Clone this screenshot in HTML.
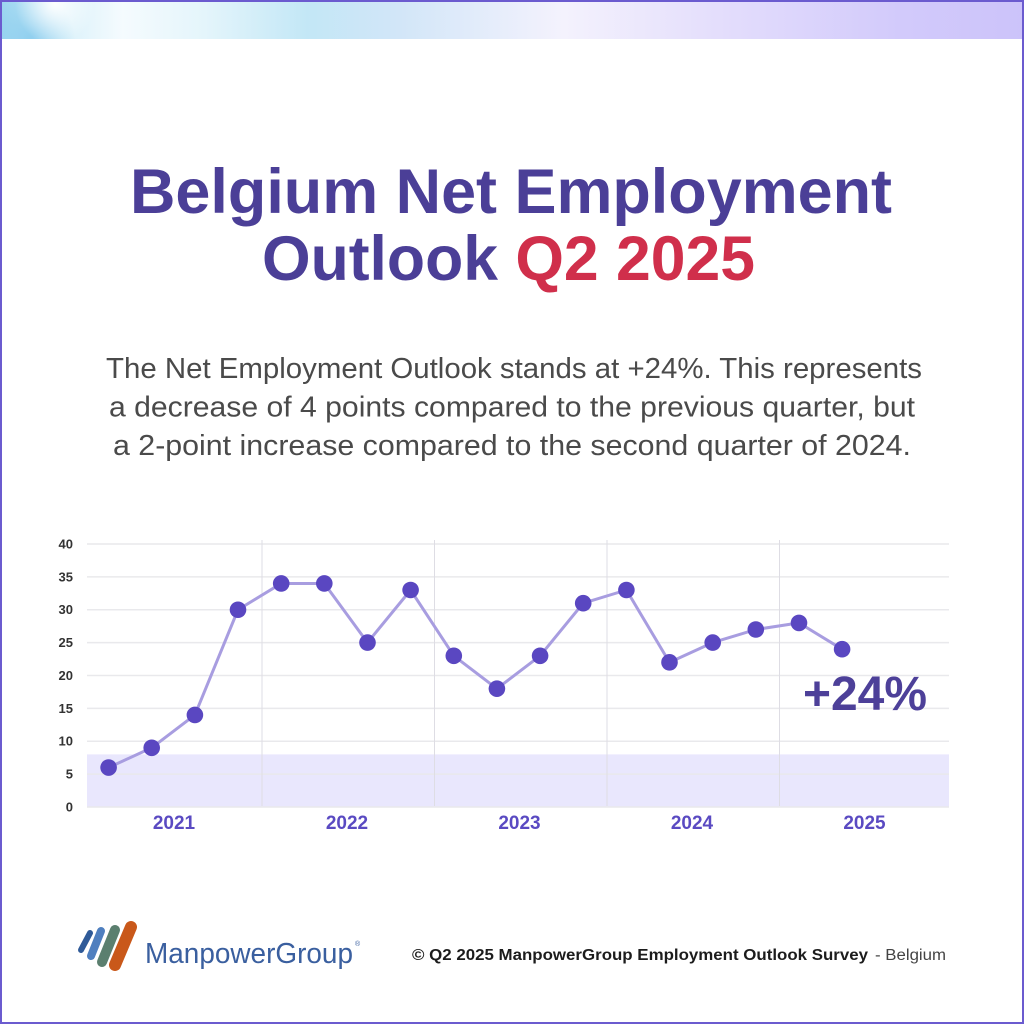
<!DOCTYPE html>
<html>
<head>
<meta charset="utf-8">
<style>
html,body{margin:0;padding:0;background:#fff;}
svg{display:block;}
text{font-family:"Liberation Sans",Arial,sans-serif;}
</style>
</head>
<body>
<svg width="1024" height="1024" viewBox="0 0 1024 1024" xmlns="http://www.w3.org/2000/svg">
  <defs>
    <linearGradient id="hdr" x1="0" y1="0" x2="1" y2="0">
      <stop offset="0" stop-color="#9ad5f0"/>
      <stop offset="0.06" stop-color="#d9f1fa"/>
      <stop offset="0.12" stop-color="#f5fbfe"/>
      <stop offset="0.2" stop-color="#e4f5fb"/>
      <stop offset="0.3" stop-color="#c3e7f6"/>
      <stop offset="0.39" stop-color="#d2e6f8"/>
      <stop offset="0.55" stop-color="#f4f2fd"/>
      <stop offset="0.7" stop-color="#e4defc"/>
      <stop offset="0.88" stop-color="#d2cafb"/>
      <stop offset="1" stop-color="#ccc3fa"/>
    </linearGradient>
    <radialGradient id="spot" cx="55" cy="4" r="40" gradientUnits="userSpaceOnUse">
      <stop offset="0" stop-color="#ffffff" stop-opacity="0.95"/>
      <stop offset="1" stop-color="#ffffff" stop-opacity="0"/>
    </radialGradient>
    <radialGradient id="bluespot" cx="30" cy="38" r="45" gradientUnits="userSpaceOnUse">
      <stop offset="0" stop-color="#8ccdee" stop-opacity="0.9"/>
      <stop offset="1" stop-color="#8ccdee" stop-opacity="0"/>
    </radialGradient>
  </defs>

  <!-- header band -->
  <rect x="0" y="0" width="1024" height="39" fill="url(#hdr)"/>
  <rect x="0" y="0" width="140" height="39" fill="url(#bluespot)"/>
  <rect x="0" y="0" width="140" height="39" fill="url(#spot)"/>

  <!-- title -->
  <text x="511" y="213" text-anchor="middle" font-size="63" font-weight="bold" fill="#4b3f97" textLength="762" lengthAdjust="spacingAndGlyphs">Belgium Net Employment</text>
  <text x="508.5" y="280" text-anchor="middle" font-size="63" font-weight="bold" fill="#4b3f97" textLength="493" lengthAdjust="spacingAndGlyphs">Outlook <tspan fill="#d02f4b">Q2 2025</tspan></text>

  <!-- paragraph -->
  <g font-size="28.5" fill="#4a4a4a" text-anchor="middle">
    <text x="514" y="378" textLength="816" lengthAdjust="spacingAndGlyphs">The Net Employment Outlook stands at +24%. This represents</text>
    <text x="512" y="416.5" textLength="806" lengthAdjust="spacingAndGlyphs">a decrease of 4 points compared to the previous quarter, but</text>
    <text x="512" y="455" textLength="798" lengthAdjust="spacingAndGlyphs">a 2-point increase compared to the second quarter of 2024.</text>
  </g>

  <!-- chart -->
  <rect x="87" y="754.4" width="862" height="52.6" fill="#e9e7fd"/>
  <g stroke="#e9e9ec" stroke-width="1.5">
    <line x1="87" y1="807" x2="949" y2="807"/>
    <line x1="87" y1="774.1" x2="949" y2="774.1"/>
    <line x1="87" y1="741.25" x2="949" y2="741.25"/>
    <line x1="87" y1="708.4" x2="949" y2="708.4"/>
    <line x1="87" y1="675.5" x2="949" y2="675.5"/>
    <line x1="87" y1="642.6" x2="949" y2="642.6"/>
    <line x1="87" y1="609.75" x2="949" y2="609.75"/>
    <line x1="87" y1="576.9" x2="949" y2="576.9"/>
    <line x1="87" y1="544" x2="949" y2="544"/>
  </g>
  <g stroke="#dedde4" stroke-width="1">
    <line x1="262" y1="540" x2="262" y2="806"/>
    <line x1="434.5" y1="540" x2="434.5" y2="806"/>
    <line x1="607" y1="540" x2="607" y2="806"/>
    <line x1="779.5" y1="540" x2="779.5" y2="806"/>
  </g>

  <g font-size="13" font-weight="bold" fill="#333" text-anchor="end">
    <text x="73" y="811.5">0</text>
    <text x="73" y="778.6">5</text>
    <text x="73" y="745.7">10</text>
    <text x="73" y="712.9">15</text>
    <text x="73" y="680">20</text>
    <text x="73" y="647.1">25</text>
    <text x="73" y="614.2">30</text>
    <text x="73" y="581.4">35</text>
    <text x="73" y="548.5">40</text>
  </g>

  <g font-size="19" font-weight="bold" fill="#5a4ac2" text-anchor="middle">
    <text x="174" y="829">2021</text>
    <text x="347" y="829">2022</text>
    <text x="519.5" y="829">2023</text>
    <text x="692" y="829">2024</text>
    <text x="864.5" y="829">2025</text>
  </g>

  <polyline fill="none" stroke="#a89de0" stroke-width="3" stroke-linejoin="round"
    points="108.6,767.55 151.7,747.8 194.9,714.95 238,609.75 281.2,583.45 324.3,583.45 367.5,642.6 410.6,590 453.8,655.8 496.9,688.65 540.1,655.8 583.2,603.2 626.4,590 669.5,662.35 712.7,642.6 755.8,629.5 799,622.9 842.1,649.2"/>
  <g fill="#5a47c1">
    <circle cx="108.6" cy="767.55" r="8.3"/>
    <circle cx="151.7" cy="747.8" r="8.3"/>
    <circle cx="194.9" cy="714.95" r="8.3"/>
    <circle cx="238" cy="609.75" r="8.3"/>
    <circle cx="281.2" cy="583.45" r="8.3"/>
    <circle cx="324.3" cy="583.45" r="8.3"/>
    <circle cx="367.5" cy="642.6" r="8.3"/>
    <circle cx="410.6" cy="590" r="8.3"/>
    <circle cx="453.8" cy="655.8" r="8.3"/>
    <circle cx="496.9" cy="688.65" r="8.3"/>
    <circle cx="540.1" cy="655.8" r="8.3"/>
    <circle cx="583.2" cy="603.2" r="8.3"/>
    <circle cx="626.4" cy="590" r="8.3"/>
    <circle cx="669.5" cy="662.35" r="8.3"/>
    <circle cx="712.7" cy="642.6" r="8.3"/>
    <circle cx="755.8" cy="629.5" r="8.3"/>
    <circle cx="799" cy="622.9" r="8.3"/>
    <circle cx="842.1" cy="649.2" r="8.3"/>
  </g>

  <text x="803" y="710" font-size="48" font-weight="bold" fill="#4d4099" textLength="124" lengthAdjust="spacingAndGlyphs">+24%</text>

  <!-- logo -->
  <g stroke-linecap="round" fill="none">
    <line x1="81" y1="950" x2="90" y2="933" stroke="#2f5a98" stroke-width="6"/>
    <line x1="91" y1="956" x2="101" y2="931" stroke="#4f7fbf" stroke-width="8"/>
    <line x1="102" y1="962" x2="115" y2="930" stroke="#5b7f6f" stroke-width="10"/>
    <line x1="115" y1="965" x2="131" y2="927" stroke="#c9581a" stroke-width="12"/>
  </g>
  <text x="145" y="963" font-size="29" fill="#3a5f9f" textLength="208" lengthAdjust="spacingAndGlyphs">ManpowerGroup</text>
  <text x="355" y="946" font-size="7" fill="#3a5f9f">®</text>

  <!-- footer source -->
  <text x="412" y="960" font-size="15.5" font-weight="bold" fill="#1c1c1c" textLength="456" lengthAdjust="spacingAndGlyphs">© Q2 2025 ManpowerGroup Employment Outlook Survey</text>
  <text x="875" y="960" font-size="15.5" fill="#444" textLength="71" lengthAdjust="spacingAndGlyphs">- Belgium</text>

  <!-- border -->
  <rect x="1" y="1" width="1022" height="1022" fill="none" stroke="#6b5bcf" stroke-width="2"/>
</svg>
</body>
</html>
